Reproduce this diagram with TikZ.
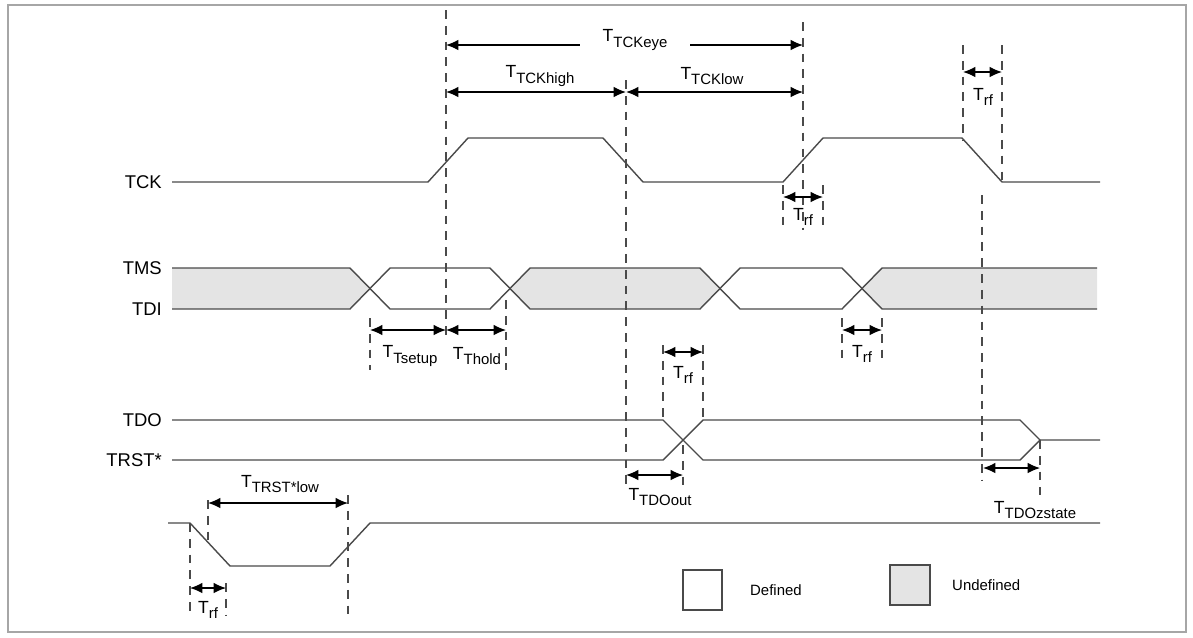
\documentclass[tikz,border=0pt]{standalone}
\usepackage{fontspec}
\setmainfont{Liberation Sans}
\usetikzlibrary{arrows.meta}
\definecolor{sig}{HTML}{4A4A4A}
\definecolor{und}{HTML}{E4E4E4}
\newcommand{\Tsb}[1]{T\raisebox{-0.55ex}{\fontsize{8.5}{9}\selectfont #1}}
\begin{document}
\begin{tikzpicture}[x=0.02cm,y=-0.02cm,
  wave/.style={draw=sig,line width=0.8pt},
  dsh/.style={draw=sig,dash pattern=on 5pt off 4pt,line width=0.6pt},
  dim/.style={draw=black,line width=0.7pt,{Latex[length=7pt,width=6pt]}-{Latex[length=7pt,width=6pt]}},
  lab/.style={font=\fontsize{10}{12}\selectfont,inner sep=1pt},
  sl/.style={font=\fontsize{10.5}{12}\selectfont,anchor=east}]
\useasboundingbox (0,0) rectangle (1193,637);
\draw[draw=gray!70,line width=1pt] (8,5) rectangle (1186,632);
% signal names
\node[sl] (ntck) at (168,182) {TCK};
\node[sl] (ntms) at (168,268) {TMS};
\node[sl] (ntdi) at (168,309) {TDI};
\node[sl] (ntdo) at (168,420) {TDO};
\node[sl] (ntrst) at (168,460) {TRST*};
% undefined fills
\fill[und] (172,268)--(350,268)--(370,288.5)--(350,309)--(172,309)--cycle;
\fill[und] (530,268)--(700,268)--(720,288.5)--(700,309)--(530,309)--(510,288.5)--cycle;
\fill[und] (882,268)--(1097,268)--(1097,309)--(882,309)--(862,288.5)--cycle;
% dashed lines
\draw[dsh] (446,10)--(446,340);
\draw[dsh] (626,80)--(626,485);
\draw[dsh] (803,22)--(803,230);
\draw[dsh] (783,185)--(783,232);
\draw[dsh] (823,185)--(823,232);
\draw[dsh] (963,45)--(963,140);
\draw[dsh] (1002,45)--(1002,185);
\draw[dsh] (982,195)--(982,480);
\draw[dsh] (370,318)--(370,370);
\draw[dsh] (506,300)--(506,370);
\draw[dsh] (842,318)--(842,365);
\draw[dsh] (882,318)--(882,365);
\draw[dsh] (663,345)--(663,420);
\draw[dsh] (703,345)--(703,420);
\draw[dsh] (683,445)--(683,485);
\draw[dsh] (1040,440)--(1040,495);
\draw[dsh] (190,523)--(190,615);
\draw[dsh] (226,583)--(226,615);
\draw[dsh] (208,500)--(208,545);
\draw[dsh] (348,495)--(348,615);
% TCK
\draw[wave] (172,182)--(428,182)--(468,138)--(603,138)--(643,182)--(783,182)--(823,138)--(962,138)--(1002,182)--(1100,182);
% TMS/TDI
\draw[wave] (172,268)--(350,268)--(390,309)--(490,309)--(530,268)--(700,268)--(740,309)--(842,309)--(882,268)--(1097,268);
\draw[wave] (172,309)--(350,309)--(390,268)--(490,268)--(530,309)--(700,309)--(740,268)--(842,268)--(882,309)--(1097,309);
% TDO/TRST
\draw[wave] (172,420)--(663,420)--(703,460)--(1020,460)--(1040,440)--(1100,440);
\draw[wave] (172,460)--(663,460)--(703,420)--(1020,420)--(1040,440);
% TRST pulse
\draw[wave] (168,523)--(190,523)--(230,566)--(330,566)--(370,523)--(1100,523);
% dimensions
\draw[draw=black,line width=0.7pt,{Latex[length=7pt,width=6pt]}-] (446,45)--(580,45);
\draw[draw=black,line width=0.7pt,-{Latex[length=7pt,width=6pt]}] (690,45)--(803,45);
\node[lab] (ttckeye) at (635,40) {\Tsb{TCKeye}};
\draw[dim] (446,92)--(626,92);
\draw[dim] (626,92)--(803,92);
\node[lab] (ttckhigh) at (540,76) {\Tsb{TCKhigh}};
\node[lab] (ttcklow) at (712,76) {\Tsb{TCKlow}};
\draw[dim] (963,72)--(1002,72);
\node[lab] (trf1) at (983,97) {\Tsb{rf}};
\draw[dim] (783,197)--(823,197);
\node[lab] (trf2) at (803,217) {\Tsb{rf}};
\draw[dim] (370,330)--(446,330);
\draw[dim] (446,330)--(506,330);
\node[lab] (tsetup) at (410,356) {\Tsb{Tsetup}};
\node[lab] (thold) at (477,356) {\Tsb{Thold}};
\draw[dim] (842,330)--(882,330);
\node[lab] (trf3) at (862,354) {\Tsb{rf}};
\draw[dim] (663,352)--(703,352);
\node[lab] (trf4) at (683,375) {\Tsb{rf}};
\draw[dim] (626,475)--(683,475);
\node[lab] (tdoout) at (660,497) {\Tsb{TDOout}};
\draw[dim] (983,468)--(1040,468);
\node[lab] (tdoz) at (1035,510) {\Tsb{TDOzstate}};
\draw[dim] (208,503)--(348,503);
\node[lab] (ttrst) at (280,484) {\Tsb{TRST*low}};
\draw[dim] (190,588)--(226,588);
\node[lab] (trf5) at (208,610) {\Tsb{rf}};
% legend
\draw[sig,line width=0.7pt,fill=white] (683,570) rectangle (722,610);
\node[font=\fontsize{8.5}{10}\selectfont,anchor=west] (ldef) at (744,590) {Defined};
\draw[sig,line width=0.7pt,fill=und] (890,565) rectangle (930,605);
\node[font=\fontsize{8.5}{10}\selectfont,anchor=west] (lund) at (946,585) {Undefined};
\end{tikzpicture}
\end{document}
